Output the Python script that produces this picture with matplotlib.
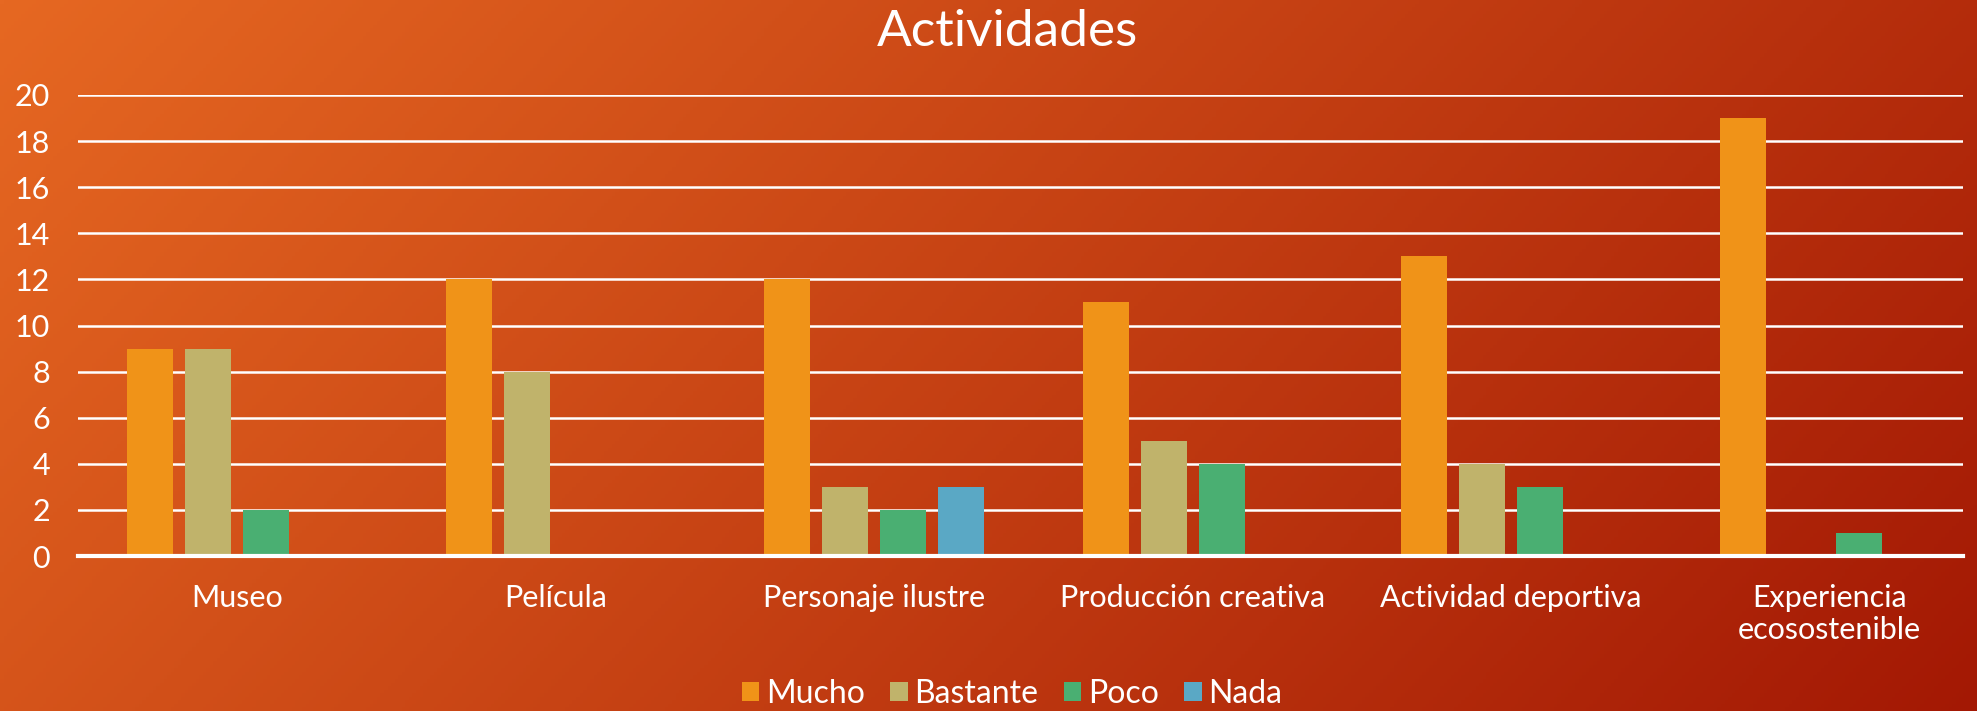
import numpy as np
import matplotlib.pyplot as plt

categories = ["Museo", "Película", "Personaje ilustre", "Producción creativa",
              "Actividad deportiva", "Experiencia\necosostenible"]
mucho = [9, 12, 12, 11, 13, 19]
bastante = [9, 8, 3, 5, 4, 0]
poco = [2, 0, 2, 4, 3, 1]
nada = [0, 0, 3, 0, 0, 0]
series = ["Mucho", "Bastante", "Poco", "Nada"]
colors = ["#F09318", "#C0B36B", "#4AAF72", "#5AA8C5"]

plt.rcParams['font.family'] = ['Lato', 'DejaVu Sans']

fig = plt.figure(figsize=(19.77, 7.11), dpi=100)

# diagonal gradient background
bg = fig.add_axes([0, 0, 1, 1], zorder=-1)
h, w = 200, 556
yy, xx = np.mgrid[0:h, 0:w]
t = (xx / w * 0.75 + yy / h * 0.25)
c0 = np.array([0xE6, 0x68, 0x22]) / 255
c1 = np.array([0xA3, 0x18, 0x04]) / 255
img = c0[None, None, :] * (1 - t[..., None]) + c1[None, None, :] * t[..., None]
bg.imshow(img, aspect='auto', extent=[0, 1, 0, 1])
bg.axis('off')

ax = fig.add_axes([78 / 1977, 1 - 556 / 711, (1963 - 78) / 1977, (556 - 95) / 711])
ax.patch.set_alpha(0)

x = np.arange(len(categories))
cat_px = 318.5
bw = 46 / cat_px
step = 58 / cat_px
data = [mucho, bastante, poco, nada]
for i, (name, vals) in enumerate(zip(series, data)):
    ax.bar(x + (i - 1.5) * step, vals, width=bw, color=colors[i], label=name, zorder=3)

ax.set_xlim(-0.5, -0.5 + 1885 / cat_px)
ax.set_ylim(0, 20)
ax.set_yticks(range(0, 21, 2))
ax.yaxis.grid(True, color="white", linewidth=1.8, zorder=0)
ax.set_axisbelow(True)
for s in ["top", "right", "left"]:
    ax.spines[s].set_visible(False)
ax.spines["bottom"].set_color("white")
ax.spines["bottom"].set_linewidth(3)
ax.spines["bottom"].set_zorder(4)
ax.tick_params(axis="both", length=0, colors="white", labelsize=22)
ax.tick_params(axis="y", pad=20)
ax.tick_params(axis="x", pad=20)
ax.set_xticks(x)
ax.set_xticklabels(categories, linespacing=1.2)

fig.text(1007 / 1977, 1 - 32 / 711, "Actividades", color="white", fontsize=37,
         ha="center", va="center")

leg = fig.legend(loc="center", bbox_to_anchor=(1012 / 1977, 1 - 694 / 711), ncol=4,
                 frameon=False, fontsize=23, handlelength=0.55, handleheight=0.55,
                 handletextpad=0.2, columnspacing=0.8)
for txt in leg.get_texts():
    txt.set_color("white")

fig.savefig("out.png", dpi=100)
